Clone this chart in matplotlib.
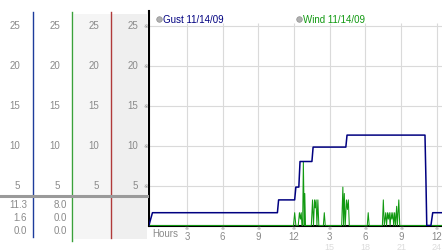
import matplotlib
matplotlib.use("Agg")
import matplotlib.pyplot as plt
import matplotlib.transforms as mtransforms

plt.rcParams['font.family'] = ['Liberation Sans', 'DejaVu Sans']

# ---- data (hours since midnight, mph) ----
gust_label = "Gust 11/14/09"
wind_label = "Wind 11/14/09"

gust_hours = [-0.2, 0.1, 10.6, 10.7, 12.05, 12.15, 12.4, 12.5, 13.5, 13.6,
              16.35, 16.45, 23.0, 23.08, 23.15, 23.5, 23.65, 24.5]
gust_mph = [0.0, 1.6, 1.6, 3.2, 3.2, 4.8, 4.8, 8.0, 8.0, 9.8,
            9.8, 11.3, 11.3, 5.7, 0.0, 0.0, 1.6, 1.6]

wind_hours = [-0.2, 11.95, 12.05, 12.15,
              12.35, 12.45, 12.53, 12.6, 12.66,
              12.72, 12.78, 12.86, 12.9, 12.96,
              13.45, 13.55, 13.63, 13.72, 13.78, 13.85, 13.92, 14.0, 14.08,
              14.46, 14.54, 14.62,
              16.0, 16.1, 16.16, 16.22, 16.3, 16.4, 16.48, 16.56, 16.64,
              18.15, 18.23, 18.31,
              19.42, 19.5, 19.58, 19.7, 19.77, 19.85, 19.92, 20.0, 20.07, 20.15,
              20.22, 20.3, 20.37, 20.45, 20.52, 20.62, 20.68, 20.8, 20.88,
              24.5]
wind_mph = [0.0, 0.0, 1.6, 0.0,
            0.0, 1.6, 0.8, 1.6, 0.0,
            0.0, 8.0, 0.0, 4.0, 0.0,
            0.0, 3.2, 0.0, 3.2, 2.2, 3.2, 0.0, 3.2, 0.0,
            0.0, 1.6, 0.0,
            0.0, 4.8, 0.0, 4.0, 0.0, 3.2, 2.0, 3.2, 0.0,
            0.0, 1.6, 0.0,
            0.0, 3.2, 0.0, 1.6, 0.0, 1.6, 0.8, 1.6, 0.0, 1.6,
            0.8, 1.6, 0.0, 1.6, 0.0, 2.4, 0.0, 3.2, 0.0,
            0.0]

y_ticks = [5, 10, 15, 20, 25]
x_ticks = [3, 6, 9, 12, 15, 18, 21, 24]
x_labels = ['3', '6', '9', '12', '3', '6', '9', '12']
x_labels2 = ['15', '18', '21', '24']

GUST_C = '#000080'
WIND_C = '#119911'
TXT_C = '#8a8a8a'
GRID_C = '#dadada'

W, H = 442, 253
fig = plt.figure(figsize=(W / 100, H / 100), dpi=100)

# ---- main chart ----
ax = fig.add_axes([149 / W, 26.5 / H, 293 / W, 214.5 / H])
ax.set_xlim(-0.19, 24.43)
ax.set_ylim(0, 214.5 / 8)

ax.hlines(y_ticks, -0.19, 24.43, color=GRID_C, lw=0.8, zorder=0)
ax.vlines(x_ticks, 0, 25.3, color=GRID_C, lw=0.8, zorder=0)

ax.plot(wind_hours, wind_mph, color=WIND_C, lw=0.75, zorder=3)
ax.plot(gust_hours, gust_mph, color=GUST_C, lw=1.1, zorder=4)

for s in ['top', 'right']:
    ax.spines[s].set_visible(False)
for s in ['left', 'bottom']:
    ax.spines[s].set_color('black')
    ax.spines[s].set_linewidth(1.5)
ax.set_yticks([])
ax.set_xticks(x_ticks)
ax.set_xticklabels(x_labels, fontsize=7, color=TXT_C)
ax.tick_params(axis='x', length=0, pad=3.8)

tr = mtransforms.blended_transform_factory(ax.transData, ax.transAxes)
for xt in x_ticks:
    ax.text(xt, -0.0095, '※', transform=tr, ha='center', va='center', fontsize=3.5,
            color=TXT_C, family=['DejaVu Sans'])
for xt, lab in zip(x_ticks[4:], x_labels2):
    ax.text(xt, -0.0956, lab, transform=tr, ha='center', va='center', fontsize=6.5,
            color='#dcdcdc')
ax.text(0.1, -0.012, 'Hours', transform=tr, ha='left', va='top', fontsize=7, color=TXT_C)

# legend entries
ax.plot([0.034], [0.963], 'o', ms=4, color='#b0b0b0', mec='#909090', mew=0.5,
        transform=ax.transAxes, clip_on=False)
ax.text(0.047, 0.963, gust_label, transform=ax.transAxes, ha='left', va='center',
        fontsize=7, color=GUST_C)
ax.plot([0.512], [0.963], 'o', ms=4, color='#b0b0b0', mec='#909090', mew=0.5,
        transform=ax.transAxes, clip_on=False)
ax.text(0.524, 0.963, wind_label, transform=ax.transAxes, ha='left', va='center',
        fontsize=7, color=WIND_C)

# ---- left scale panel ----
lax = fig.add_axes([0, 0, 149 / W, 241 / H])
lax.set_xlim(0, 149)
lax.set_ylim(-26.5 / 8, 214.5 / 8)
lax.axis('off')

lax.fill_between([74, 111], -1.7, 26.4, color='#f5f5f5', lw=0, zorder=0)
lax.fill_between([112, 147], -1.7, 26.4, color='#efefef', lw=0, zorder=0)

lax.plot([33, 33], [-1.4, 26.75], color='#1d3c9c', lw=1.0, zorder=2)
lax.plot([72, 72], [-1.9, 26.75], color='#3aa03a', lw=1.0, zorder=2)
lax.plot([111, 111], [-1.5, 26.75], color='#b03a3a', lw=1.0, zorder=2)
lax.plot([0, 149], [3.7, 3.7], color='#9a9a9a', lw=2.2, zorder=3)

for yt in y_ticks:
    for xr in [20, 60, 99, 138]:
        lax.text(xr, yt, str(yt), ha='right', va='center', fontsize=7, color=TXT_C)
    lax.text(145.5, yt, '※', ha='center', va='center', fontsize=4, color=TXT_C,
             family=['DejaVu Sans'])

stat_rows = [2.69, 1.0, -0.56]
gust_stats = [max(gust_mph), gust_mph[-1], min(gust_mph)]
wind_stats = [max(wind_mph), wind_mph[-1], min(wind_mph)]
for yy, g, w in zip(stat_rows, gust_stats, wind_stats):
    lax.text(27, yy, f"{g:.1f}", ha='right', va='center', fontsize=7, color=TXT_C)
    lax.text(67, yy, f"{w:.1f}", ha='right', va='center', fontsize=7, color=TXT_C)

fig.savefig('out.png', dpi=100)
